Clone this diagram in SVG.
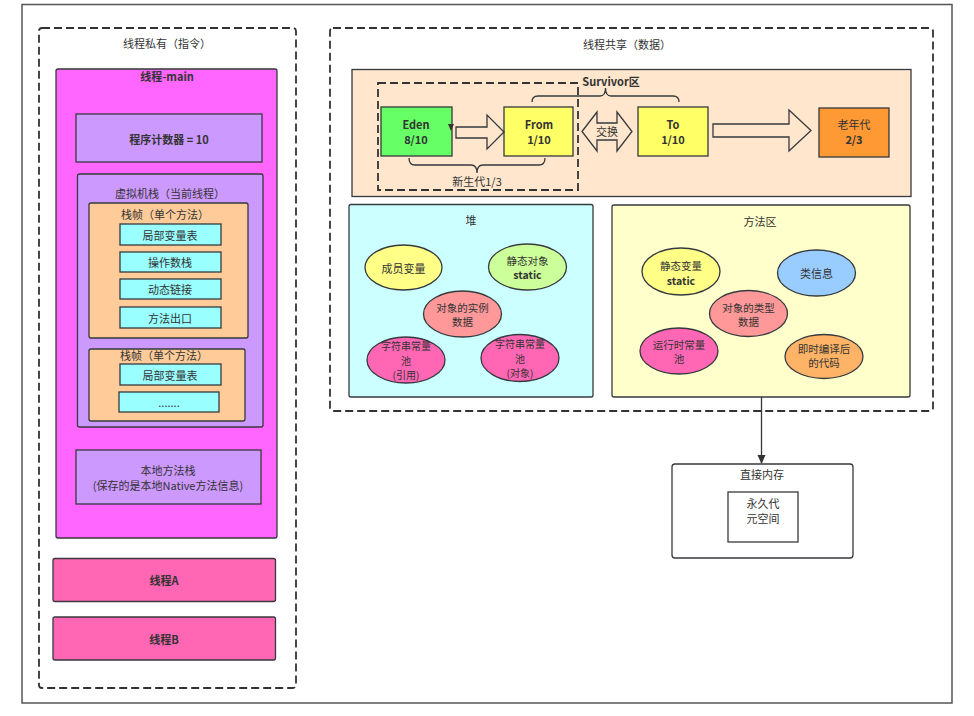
<svg xmlns="http://www.w3.org/2000/svg" width="974" height="716" viewBox="0 0 974 716">
<defs>
<style>
text{font-family:"Noto Sans CJK SC","Liberation Sans",sans-serif;font-size:11px;fill:#333;text-anchor:middle;dominant-baseline:central}
.b{font-weight:bold}
.s{font-size:10.5px}
.t{font-size:10px}
.box{stroke:#36393d;stroke-width:1.3}
.dash{fill:none;stroke:#333;stroke-width:1.8;stroke-dasharray:8 4}
.ln{fill:none;stroke:#36393d;stroke-width:1.3}
</style>
<marker id="ah" markerWidth="10" markerHeight="10" refX="8" refY="5" orient="auto" markerUnits="userSpaceOnUse">
<path d="M0,1 L9,5 L0,9 Z" fill="#333"/>
</marker>
</defs>
<rect width="974" height="716" fill="#fff"/>
<rect x="22" y="4.5" width="930" height="698.5" fill="none" stroke="#555" stroke-width="1.5"/>

<g id="private-area">
<rect x="39" y="28" width="257" height="660" rx="3" class="dash"/>
<text x="167" y="43">线程私有（指令）</text>
</g>
<g id="thread-main">
<rect x="56" y="69" width="221" height="469" rx="2" fill="#FF66FF" class="box"/>
<text x="167" y="76" class="b">线程-main</text>
</g>
<g id="pc-counter">
<rect x="76" y="114" width="186" height="48" fill="#CC99FF" class="box"/>
<text x="169" y="139" class="b">程序计数器 = 10</text>
</g>
<g id="vm-stack">
<rect x="77.5" y="174" width="185.5" height="253" rx="2" fill="#CC99FF" class="box"/>
<text x="170" y="193">虚拟机栈（当前线程）</text>
</g>
<g id="frame1">
<rect x="89" y="203" width="159" height="135" rx="2" fill="#FFCC99" class="box"/>
<text x="165" y="214">栈帧（单个方法）</text>
</g>
<g id="f1-locals"><rect x="120" y="224" width="101" height="21" fill="#99FFFF" class="box"/><text x="170" y="235">局部变量表</text></g>
<g id="f1-operand"><rect x="120" y="252" width="101" height="20" fill="#99FFFF" class="box"/><text x="170" y="262">操作数栈</text></g>
<g id="f1-dynlink"><rect x="120" y="279" width="101" height="20" fill="#99FFFF" class="box"/><text x="170" y="289">动态链接</text></g>
<g id="f1-return"><rect x="120" y="307" width="101" height="21" fill="#99FFFF" class="box"/><text x="170" y="318">方法出口</text></g>
<g id="frame2">
<rect x="89" y="349" width="156" height="72" rx="2" fill="#FFCC99" class="box"/>
<text x="164" y="355">栈帧（单个方法）</text>
</g>
<g id="f2-locals"><rect x="120" y="364" width="101" height="21" fill="#99FFFF" class="box"/><text x="170" y="375">局部变量表</text></g>
<g id="f2-more"><rect x="119" y="392" width="100" height="20" fill="#99FFFF" class="box"/><text x="169" y="402">.......</text></g>
<g id="native-stack">
<rect x="76" y="450" width="185" height="54" fill="#CC99FF" class="box"/>
<text x="168" y="470">本地方法栈</text>
<text x="168" y="485">(保存的是本地Native方法信息)</text>
</g>
<g id="thread-a">
<rect x="53" y="558.5" width="222.5" height="43" rx="2" fill="#FF66B3" class="box"/>
<text x="164" y="580" class="b">线程A</text>
</g>
<g id="thread-b">
<rect x="53" y="617" width="222.5" height="43" rx="2" fill="#FF66B3" class="box"/>
<text x="164" y="639" class="b">线程B</text>
</g>

<g id="shared-area">
<rect x="330" y="28" width="603" height="383" rx="3" class="dash"/>
<text x="627" y="44">线程共享（数据）</text>
</g>
<g id="generations">
<rect x="352" y="69.5" width="559" height="127" fill="#FFE6CC" class="box"/>
</g>
<g id="young-gen">
<rect x="378" y="83" width="200" height="107" fill="#CCE5FF" class="dash"/>
</g>
<g id="eden">
<rect x="381" y="107" width="71" height="49" fill="#66FF66" class="box"/>
<text x="416" y="124" class="b">Eden</text>
<text x="416" y="139" class="b">8/10</text>
</g>
<g id="from">
<rect x="504" y="107" width="69" height="49" fill="#FFFF66" class="box"/>
<text x="539" y="124" class="b">From</text>
<text x="539" y="139" class="b">1/10</text>
</g>
<g id="to">
<rect x="638" y="107" width="70" height="49" fill="#FFFF66" class="box"/>
<text x="673" y="124" class="b">To</text>
<text x="673" y="139" class="b">1/10</text>
</g>
<g id="old-gen">
<rect x="819" y="108" width="70" height="49" fill="#FF9933" class="box"/>
<text x="854" y="124">老年代</text>
<text x="854" y="139" class="b">2/3</text>
</g>
<g id="heap">
<rect x="349" y="204.5" width="244" height="192.5" rx="2" fill="#CCFFFF" class="box"/>
<text x="471" y="220">堆</text>
</g>
<g id="member-var"><ellipse cx="403.5" cy="267.5" rx="38.5" ry="22.5" fill="#FFFF88" class="box"/><text x="403.5" y="268">成员变量</text></g>
<g id="static-obj"><ellipse cx="527.5" cy="267" rx="39" ry="23" fill="#CCFF99" class="box"/><text x="527.5" y="260" class="s">静态对象</text><text x="527.5" y="274" class="b s">static</text></g>
<g id="instance-data"><ellipse cx="462.5" cy="314" rx="39" ry="23" fill="#FF9999" class="box"/><text x="462.5" y="307" class="s">对象的实例</text><text x="462.5" y="321" class="s">数据</text></g>
<g id="str-pool-ref"><ellipse cx="406" cy="360" rx="39" ry="23" fill="#FF66B3" class="box"/><text x="406" y="345.5" class="t">字符串常量</text><text x="406" y="360" class="t">池</text><text x="406" y="374.5" class="t">(引用)</text></g>
<g id="str-pool-obj"><ellipse cx="520" cy="358" rx="39" ry="23.5" fill="#FF66B3" class="box"/><text x="520" y="343.5" class="t">字符串常量</text><text x="520" y="358" class="t">池</text><text x="520" y="372.5" class="t">(对象)</text></g>
<g id="method-area">
<rect x="612" y="205" width="298" height="192" rx="2" fill="#FFFFCC" class="box"/>
<text x="760" y="221">方法区</text>
</g>
<g id="static-var"><ellipse cx="681" cy="271.5" rx="39" ry="23.5" fill="#FFFF88" class="box"/><text x="681" y="265" class="s">静态变量</text><text x="681" y="280" class="b s">static</text></g>
<g id="class-info"><ellipse cx="816.5" cy="273" rx="39" ry="23" fill="#99CCFF" class="box"/><text x="816.5" y="273">类信息</text></g>
<g id="type-data"><ellipse cx="748.5" cy="313.5" rx="39" ry="23" fill="#FF9999" class="box"/><text x="748.5" y="307" class="s">对象的类型</text><text x="748.5" y="321" class="s">数据</text></g>
<g id="runtime-pool"><ellipse cx="679" cy="351" rx="39" ry="23" fill="#FF66B3" class="box"/><text x="679" y="344" class="s">运行时常量</text><text x="679" y="358" class="s">池</text></g>
<g id="jit-code"><ellipse cx="824" cy="356.5" rx="39" ry="22" fill="#FFB366" class="box"/><text x="824" y="348" class="s">即时编译后</text><text x="824" y="362" class="s">的代码</text></g>
<g id="direct-memory">
<rect x="672" y="464" width="181" height="94" rx="3" fill="#fff" class="box"/>
<text x="762" y="474">直接内存</text>
</g>
<g id="metaspace">
<rect x="728" y="492" width="70" height="50" fill="#fff" class="box"/>
<text x="763" y="503">永久代</text>
<text x="763" y="518">元空间</text>
</g>

<g id="connectors">
<path d="M456,127 L487,127 L487,115 L504,132 L487,149 L487,138 L456,138 Z" fill="#fff" class="ln"/>
<path d="M448,124 L454,124 L451,131 Z" fill="#333"/>
<path d="M582,131.5 L597,112 L597,123 L617,123 L617,112 L632,131.5 L617,151 L617,140 L597,140 L597,151 Z" fill="#fff" class="ln"/>
<text x="607" y="131">交换</text>
<path d="M713,124 L789,124 L789,110 L811,130.5 L789,151 L789,137 L713,137 Z" fill="#fff" class="ln"/>
<path d="M532,102 Q532,96 538,96 L600,96 Q605.5,96 605.5,88 Q605.5,96 611,96 L673,96 Q679,96 679,102" class="ln"/>
<text x="611" y="81" class="b">Survivor区</text>
<path d="M409,158 Q409,165 415,165 L471,165 Q477,165 477,173 Q477,165 483,165 L539,165 Q545,165 545,158" class="ln"/>
<text x="477" y="181">新生代1/3</text>
<path d="M761.5,397 L761.5,463" class="ln" marker-end="url(#ah)"/>
</g>
</svg>
